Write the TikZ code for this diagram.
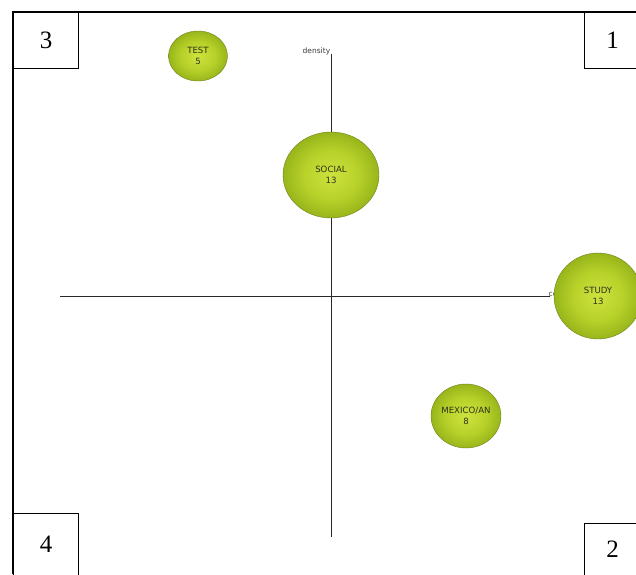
\documentclass[tikz,border=0pt]{standalone}
\usepackage{fontspec}
\setmainfont{Liberation Serif}
\newfontfamily\bubblefont{DejaVu Sans}
\usetikzlibrary{shapes}

\definecolor{ballA}{RGB}{206,226,62}
\definecolor{ballB}{RGB}{184,210,42}
\definecolor{ballC}{RGB}{146,176,24}
\definecolor{ballD}{RGB}{98,122,12}
\pgfdeclareradialshading{greenball}{\pgfpoint{0bp}{0bp}}{color(0bp)=(ballA); color(14bp)=(ballB); color(27bp)=(ballC); color(35bp)=(ballD); color(50bp)=(ballD)}

\tikzset{
  quadbox/.style={draw, line width=1.2pt, anchor=north west, font=\fontsize{25}{25}\selectfont, inner sep=0pt},
  bubble/.style={ellipse, shading=greenball, draw={rgb,255:red,110;green,130;blue,30}, line width=0.4pt, inner sep=0pt, align=center, font=\bubblefont\fontsize{8.6}{11}\selectfont, text={rgb,255:red,45;green,50;blue,25}},
  axis/.style={line width=0.8pt, draw={rgb,255:red,40;green,40;blue,40}}
}

\begin{document}
\begin{tikzpicture}[x=1pt,y=1pt,yscale=-1,xscale=1]
\useasboundingbox (0,0) rectangle (636,574);

%Frame
\draw [line width=1.6pt] (13,574) -- (13,12) -- (636,12) ;

%Quadrant boxes
\node [quadbox, minimum width=65pt, minimum height=56pt] (q3) at (13,12) {3};
\node [quadbox, minimum width=56pt, minimum height=56pt] (q1) at (584,12) {1};
\node [quadbox, minimum width=65pt, minimum height=62pt] (q4) at (13,513) {4};
\node [quadbox, minimum width=56pt, minimum height=52pt] (q2) at (584,523) {2};

%Axes
\coordinate (xl) at (60,296) ;
\coordinate (xr) at (550,296) ;
\coordinate (yt) at (331,54) ;
\coordinate (yb) at (331,537) ;
\draw [axis] (xl) -- (xr) ;
\draw [axis] (yt) -- (yb) ;

% Text Node
\node [anchor=south east, inner sep=0.6pt, font=\bubblefont\fontsize{7.5}{7.5}\selectfont, text={rgb,255:red,60;green,60;blue,60}] (dens) at (331,56) {density};
% Text Node
\node [anchor=west, inner sep=0.5pt, font=\bubblefont\fontsize{7.5}{7.5}\selectfont, text={rgb,255:red,60;green,60;blue,60}] (cent) at (548,294) {centrality};

%Bubbles
\node [bubble, minimum width=59pt, minimum height=50pt] (test) at (198,56) {TEST\\5};
\node [bubble, minimum width=96pt, minimum height=86pt] (social) at (331,175) {SOCIAL\\13};
\node [bubble, minimum width=88pt, minimum height=86pt] (study) at (598,296) {STUDY\\13};
\node [bubble, minimum width=70pt, minimum height=64pt] (mexico) at (466,416) {MEXICO/AN\\8};

\end{tikzpicture}
\end{document}
